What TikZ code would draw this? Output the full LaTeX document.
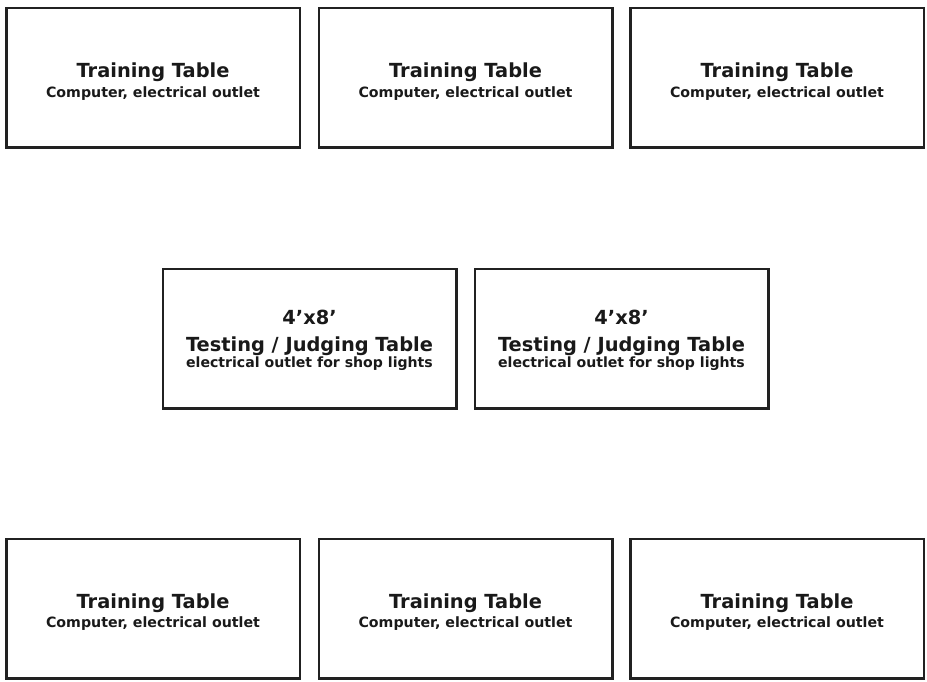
\documentclass[tikz,border=0pt]{standalone}
\usepackage{fontspec}
\setmainfont{DejaVu Sans}
\usepackage{tikz}

\begin{document}
\begin{tikzpicture}[x=1pt,y=-1pt,
    tablebox/.style={draw=black!87,text=black!90,line width=2.5pt,minimum width=293.5pt,minimum height=139.5pt,
      align=center,inner sep=0pt,text height=42pt,text depth=3.4pt,font=\bfseries\fontsize{14.2}{19.5}\selectfont},
    judgebox/.style={tablebox,text height=62pt,font=\bfseries\fontsize{14.1}{16.7}\selectfont}]
      \useasboundingbox (0,0) rectangle (927,682);
      % training tables, top row
      \node[tablebox] (T1) at (153,78) {{\fontsize{19.4}{20}\selectfont Training Table}\\Computer, electrical outlet};
      \node[tablebox] (T2) at (465.5,78) {{\fontsize{19.4}{20}\selectfont Training Table}\\Computer, electrical outlet};
      \node[tablebox] (T3) at (777,78) {{\fontsize{19.4}{20}\selectfont Training Table}\\Computer, electrical outlet};

      % testing / judging tables
      \node[judgebox] (J1) at (309.5,338.5) {{\fontsize{19.4}{20}\selectfont 4’x8’}\\[10pt]{\fontsize{19.4}{20}\selectfont Testing / Judging Table}\\electrical outlet for shop lights};
      \node[judgebox] (J2) at (621.5,338.5) {{\fontsize{19.4}{20}\selectfont 4’x8’}\\[10pt]{\fontsize{19.4}{20}\selectfont Testing / Judging Table}\\electrical outlet for shop lights};

      % training tables, bottom row
      \node[tablebox] (B1) at (153,608.5) {{\fontsize{19.4}{20}\selectfont Training Table}\\Computer, electrical outlet};
      \node[tablebox] (B2) at (465.5,608.5) {{\fontsize{19.4}{20}\selectfont Training Table}\\Computer, electrical outlet};
      \node[tablebox] (B3) at (777,608.5) {{\fontsize{19.4}{20}\selectfont Training Table}\\Computer, electrical outlet};
\end{tikzpicture}
\end{document}
